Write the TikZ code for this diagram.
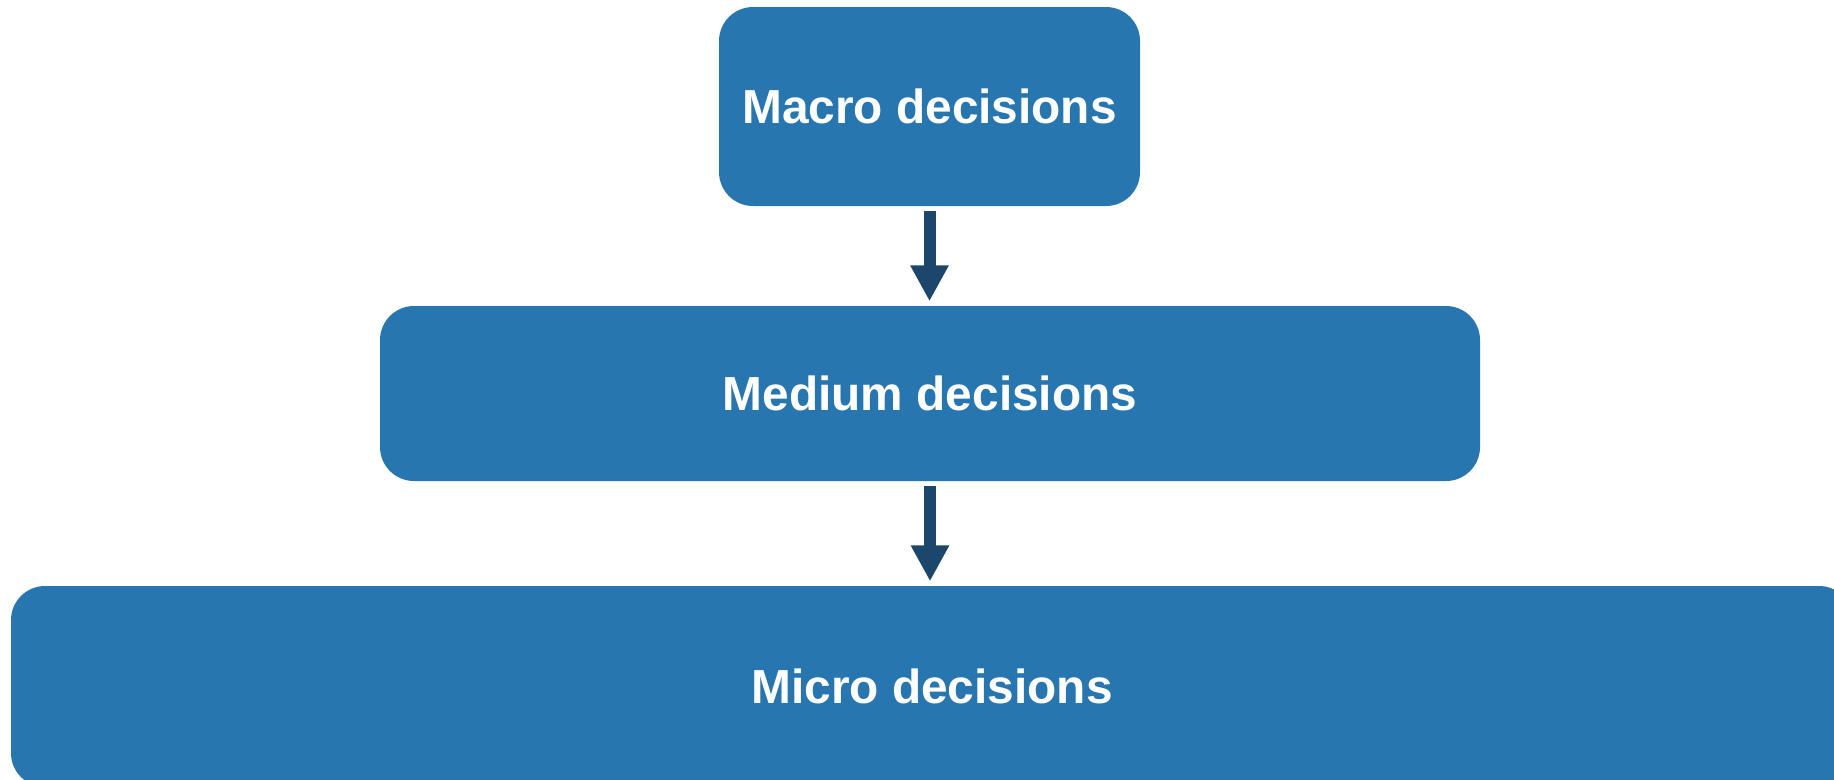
\documentclass[tikz,border=0pt]{standalone}
\usepackage{fontspec}
\setmainfont{Liberation Sans}
\RequirePackage{xcolor}
\definecolor{boxblue}{RGB}{39,118,175}
\definecolor{arrownavy}{RGB}{28,70,108}
\usetikzlibrary{arrows.meta}
\usetikzlibrary{positioning}
\tikzset{decision/.style={fill=boxblue, rounded corners=0.34cm, text=white, font=\fontsize{13.6}{16}\selectfont\bfseries, inner sep=0pt},
  flow/.style={draw=arrownavy, line width=0.12cm, -{Triangle[width=0.36cm, length=0.36cm]}, shorten <=0.04cm, shorten >=0.04cm}}

\begin{document}
\begin{tikzpicture}
  \clip (0,0) rectangle (18.34,-7.79);

  \node [decision, minimum width=4.21cm, minimum height=1.99cm] (macro) at (9.295,-1.065) {Macro decisions};
  \node [decision, minimum width=11.0cm, minimum height=1.75cm] (medium) at (9.30,-3.935) {Medium decisions};
  \node [decision, minimum width=18.42cm, minimum height=2.01cm] (micro) at (9.32,-6.865) {Micro decisions};

  \draw [flow] (macro.south) -- (macro.south |- medium.north);
  \draw [flow] (medium.south) -- (medium.south |- micro.north);

\end{tikzpicture}
\end{document}
